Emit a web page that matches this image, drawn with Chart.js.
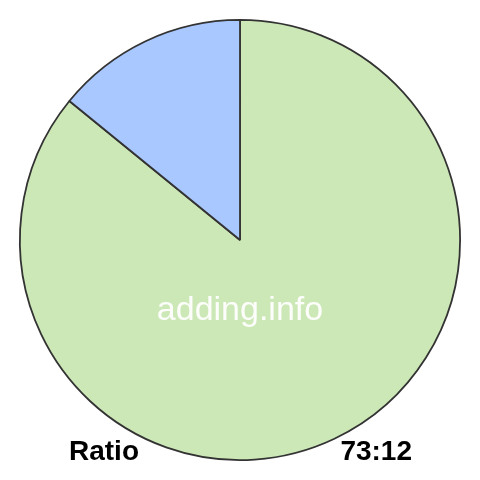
<!DOCTYPE html>
<html>
<head>
<meta charset="utf-8">
<script src="https://cdn.jsdelivr.net/npm/chart.js@4"></script>
<style>
  html, body { margin: 0; padding: 0; background: #fff; }
  #wrap { width: 480px; height: 480px; position: relative; }
</style>
</head>
<body>
<div id="wrap"><canvas id="ratioChart"></canvas></div>
<script>
const labels = ['73', '12'];
const values = [73, 12];
const sliceColors = ['#cde8b7', '#a9c8ff'];
const caption = 'adding.info';
const leftText = 'Ratio';
const rightText = values.join(':');

// draws the watermark and the bottom labels
const textPlugin = {
  id: 'textPlugin',
  afterDraw(chart) {
    const c = chart.ctx;
    c.save();
    c.textBaseline = 'alphabetic';
    c.fillStyle = 'rgba(255,255,255,0.95)';
    c.font = '34px "Liberation Sans", Arial, sans-serif';
    c.textAlign = 'center';
    c.fillText(caption, 240, 320);
    c.fillStyle = '#000';
    c.font = 'bold 28px "Liberation Sans", Arial, sans-serif';
    c.textAlign = 'left';
    c.fillText(leftText, 69, 460);
    c.textAlign = 'right';
    c.fillText(rightText, 412, 460);
    c.restore();
  }
};

new Chart(document.getElementById('ratioChart'), {
  type: 'pie',
  data: {
    labels: labels,
    datasets: [{
      data: values,
      backgroundColor: sliceColors,
      borderColor: '#333333',
      borderWidth: 1.8
    }]
  },
  options: {
    responsive: true,
    maintainAspectRatio: false,
    animation: false,
    layout: { padding: 19 },
    plugins: {
      legend: { display: false },
      tooltip: { enabled: false }
    }
  },
  plugins: [textPlugin]
});
</script>
</body>
</html>
